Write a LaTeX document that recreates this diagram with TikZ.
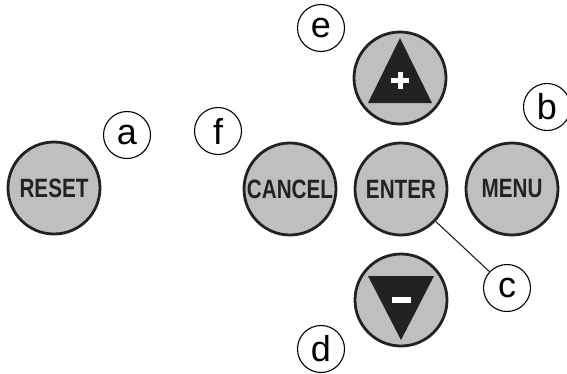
\documentclass[tikz,border=0pt]{standalone}
\usepackage{fontspec}
\setmainfont{Liberation Sans}
\usetikzlibrary{calc}
\definecolor{keyfill}{HTML}{BFBFBF}
\definecolor{keyedge}{HTML}{222222}
\newcommand{\keytext}[1]{\scalebox{0.78}[1]{\fontsize{26.5}{26.5}\selectfont\bfseries #1}}
\tikzset{
  keybtn/.style={circle, draw=keyedge, line width=2.8pt, fill=keyfill,
    minimum size=92pt, inner sep=0pt, text=keyedge},
  callout/.style={circle, draw=black, line width=1.1pt, fill=white,
    minimum size=47pt, inner sep=0pt, font=\fontsize{36}{36}\selectfont},
  leader/.style={draw=keyedge, line width=1.1pt}
}
\begin{document}
\begin{tikzpicture}[x=1pt,y=-1pt]
  \useasboundingbox (0,0) rectangle (567,373);

  % keypad buttons
  \node[keybtn] (reset)  at (54,188)  {\keytext{RESET}};
  \node[keybtn] (cancel) at (290,189) {\keytext{CANCEL}};
  \node[keybtn] (enter)  at (401,189) {\keytext{ENTER}};
  \node[keybtn] (menu)   at (512,189) {\keytext{MENU}};
  \node[keybtn] (up)     at (400,78)  {};
  \node[keybtn] (down)   at (401,300) {};

  % arrow triangles with plus / minus signs
  \fill[keyedge] ($(up)+(0,-40)$) -- ($(up)+(32,25)$) -- ($(up)+(-32,25)$) -- cycle;
  \fill[white] ($(up)+(-9,-0.5)$) rectangle ($(up)+(9,4.5)$);
  \fill[white] ($(up)+(-2.5,-6)$) rectangle ($(up)+(2.5,11)$);
  \fill[keyedge] ($(down)+(0,40)$) -- ($(down)+(33,-24)$) -- ($(down)+(-33,-24)$) -- cycle;
  \fill[white] ($(down)+(-9.5,-3)$) rectangle ($(down)+(9.5,3)$);

  % callout letters
  \node[callout] (a) at (127,135) {a};
  \node[callout] (b) at (547,107) {b};
  \node[callout] (c) at (507,288) {c};
  \node[callout] (d) at (321,349) {d};
  \node[callout] (e) at (321,28)  {e};
  \node[callout] (f) at (218,131) {f};

  % leader line from ENTER to its callout
  \draw[leader] (enter) -- (c);
\end{tikzpicture}
\end{document}
